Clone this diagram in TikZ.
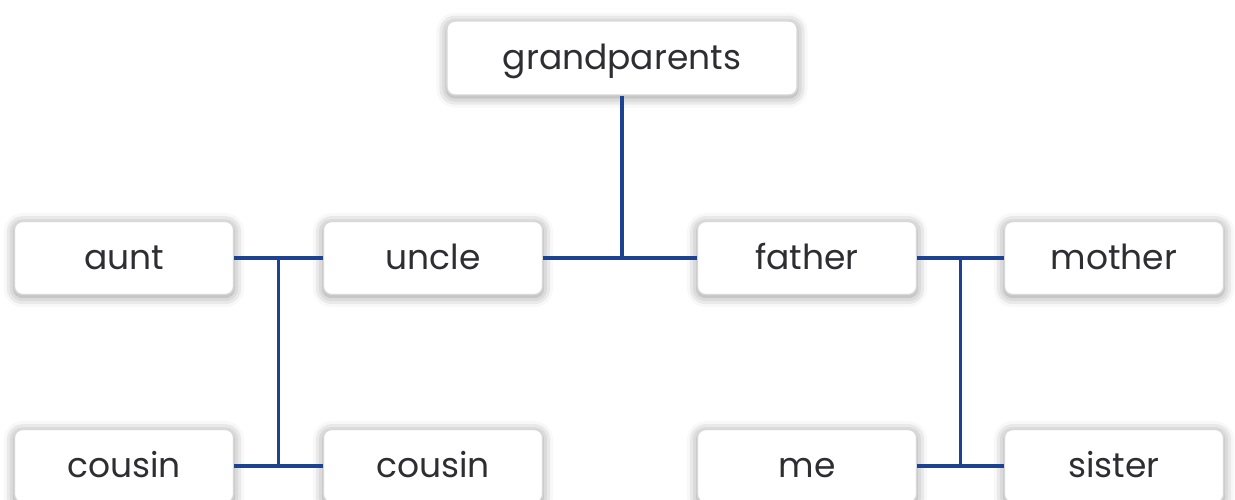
\documentclass[tikz,border=0pt]{standalone}
\usepackage{fontspec}
\setmainfont{Poppins}
\usepackage{tikz}
\usetikzlibrary{positioning,calc}
\usetikzlibrary{shadows,shadows.blur}
\definecolor{linkblue}{RGB}{30,66,146}
\definecolor{boxline}{RGB}{215,215,215}
\definecolor{txtgray}{RGB}{45,45,50}
\tikzset{
  member/.style={draw=boxline, fill=white, rounded corners=2.3pt, line width=0.4pt,
    minimum height=0.73cm, minimum width=2.19cm, text=txtgray,
    text height=8pt, text depth=1.2pt,
    font=\fontsize{9.8}{11}\selectfont,
    blur shadow={shadow xshift=0pt, shadow yshift=-0.6pt, shadow blur radius=3pt, shadow opacity=45}},
  link/.style={linkblue, line width=1.1pt}
}

\begin{document}
\begin{tikzpicture}[x=0.01cm,y=-0.01cm]
    \useasboundingbox (0,0) rectangle (1235,499);
    % top generation
    \node[member, minimum width=3.5cm, minimum height=0.74cm] (grandparents) at (622,58) {grandparents};
    % middle row
    \node[member] (aunt)   at (124,258) {aunt};
    \node[member] (uncle)  at (433,258) {uncle};
    \node[member] (father) at (807,258) {father};
    \node[member] (mother) at (1114,258) {mother};
    % bottom row
    \node[member] (cousinA) at (124,466) {cousin};
    \node[member] (cousinB) at (433,466) {cousin};
    \node[member] (me)      at (807,466) {me};
    \node[member] (sister)  at (1114,466) {sister};

    % connectors
    \draw[link] (uncle.east) -- (father.west);
    \draw[link] (grandparents.south) -- (grandparents.south |- uncle.east);
    \draw[link] (aunt.east) -- (uncle.west);
    \coordinate (leftjoin) at ($(aunt.east)!0.5!(uncle.west)$);
    \draw[link] (cousinA.east) -- (cousinB.west);
    \draw[link] (leftjoin) -- (leftjoin |- cousinA.east);
    \draw[link] (father.east) -- (mother.west);
    \coordinate (rightjoin) at ($(father.east)!0.5!(mother.west)$);
    \draw[link] (me.east) -- (sister.west);
    \draw[link] (rightjoin) -- (rightjoin |- me.east);
\end{tikzpicture}
\end{document}
